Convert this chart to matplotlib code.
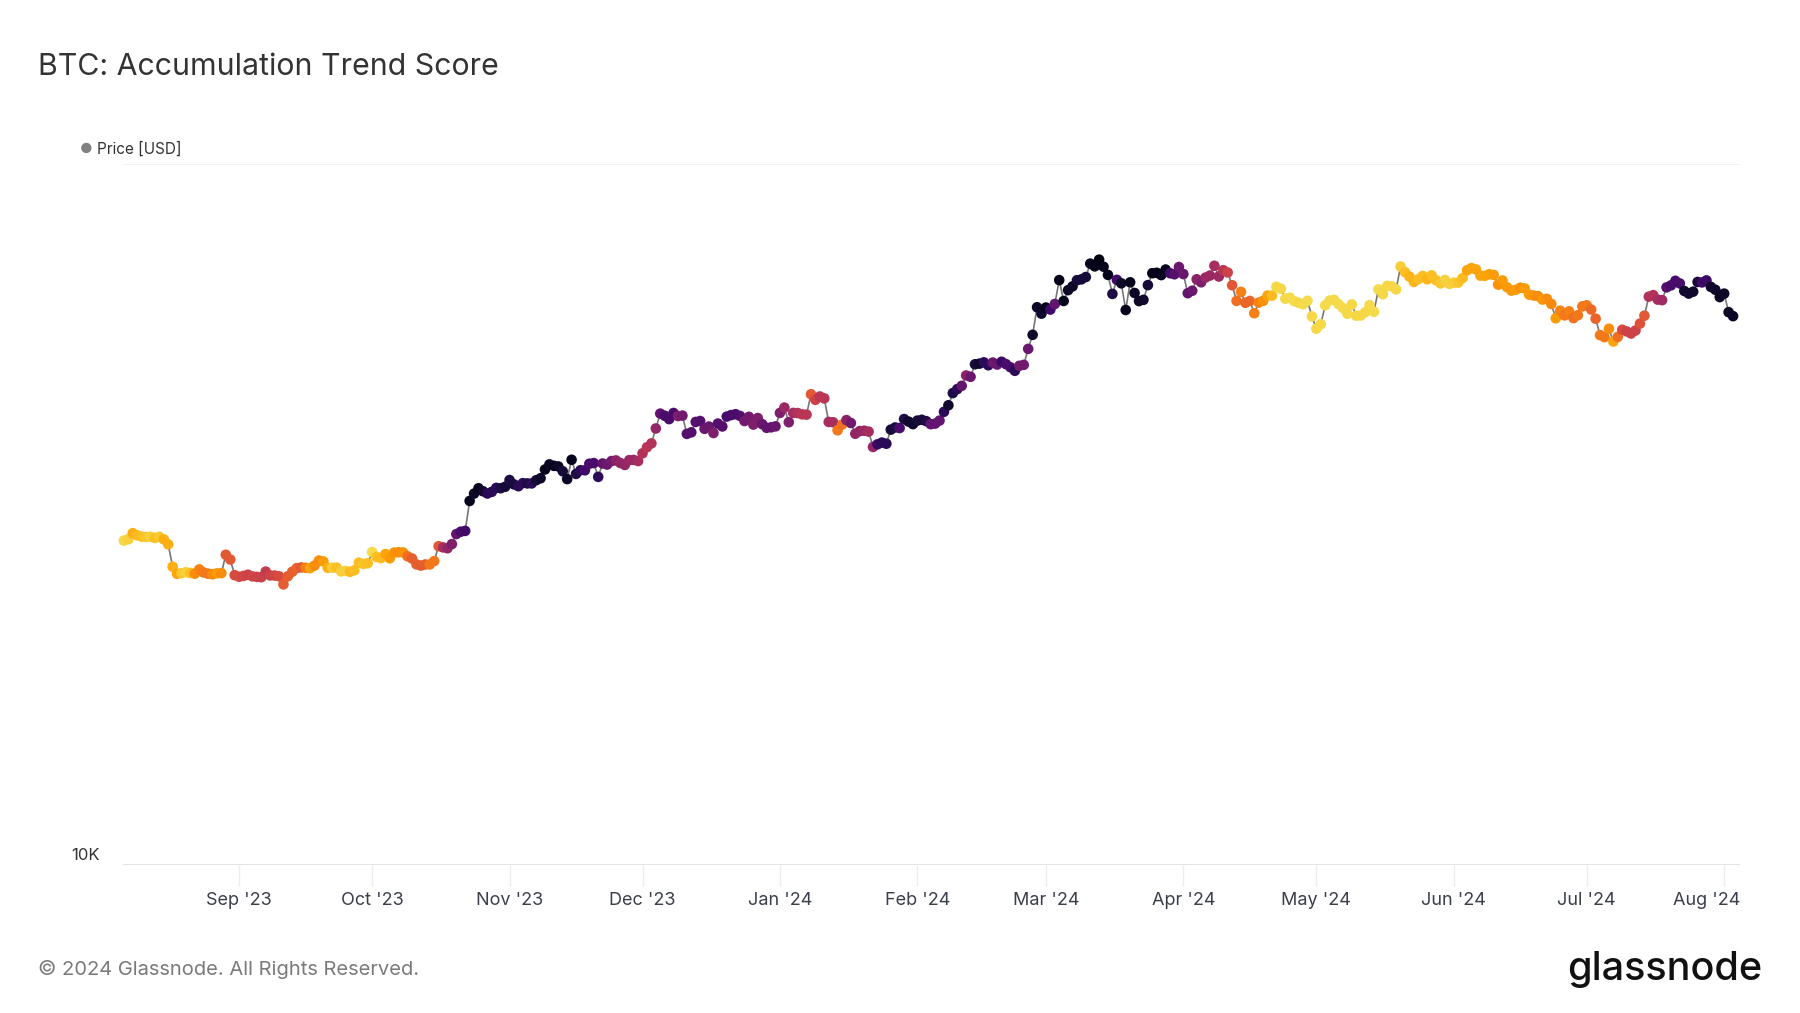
import pandas as pd
import matplotlib.pyplot as plt
import matplotlib.transforms as mtransforms

plt.rcParams["font.family"] = ["Inter", "DejaVu Sans"]

# daily BTC close in kUSD, one month per line (Aug 6 2023 .. Aug 3 2024)
price = [
    29.05, 29.18, 29.77, 29.56, 29.43, 29.40, 29.42, 29.31, 29.41, 29.17, 28.70, 26.66, 26.05, 26.10, 26.19, 26.12, 26.06, 26.43, 26.16, 26.06, 26.01, 26.09, 26.11, 27.73, 27.30, 25.93,
    25.80, 25.87, 25.97, 25.83, 25.79, 25.76, 26.24, 25.91, 25.90, 25.84, 25.16, 25.84, 26.23, 26.54, 26.60, 26.57, 26.53, 26.76, 27.21, 27.13, 26.57, 26.58, 26.58, 26.26, 26.30, 26.22, 26.35, 27.02, 26.91, 26.97,
    27.98, 27.53, 27.43, 27.79, 27.41, 27.93, 27.96, 27.94, 27.59, 27.39, 26.87, 26.76, 26.86, 26.86, 27.16, 28.52, 28.41, 28.33, 28.72, 29.68, 29.91, 29.99, 33.09, 33.90, 34.50, 34.16, 33.91, 34.09, 34.54, 34.50, 34.66,
    35.44, 34.94, 34.73, 35.08, 35.05, 35.05, 35.42, 35.65, 36.69, 37.31, 37.13, 37.06, 36.48, 35.55, 37.88, 36.16, 36.60, 36.59, 37.39, 37.47, 35.81, 37.42, 37.29, 37.72, 37.80, 37.48, 37.24, 37.83, 37.86, 37.72,
    38.69, 39.47, 39.97, 41.98, 44.08, 43.77, 43.29, 44.17, 43.73, 43.79, 41.24, 41.45, 42.89, 43.02, 41.93, 42.24, 41.36, 42.66, 42.26, 43.65, 43.87, 43.99, 43.74, 43.02, 43.61, 42.52, 43.44, 42.58, 42.07, 42.14, 42.27,
    44.18, 44.96, 42.85, 44.18, 44.16, 43.97, 43.93, 46.97, 46.12, 46.63, 46.34, 42.89, 42.84, 41.73, 42.51, 43.15, 42.74, 41.26, 41.62, 41.67, 41.55, 39.51, 39.85, 40.08, 39.93, 41.82, 42.12, 42.04, 43.30, 42.94, 42.58,
    43.08, 43.19, 43.00, 42.58, 42.66, 43.08, 44.34, 45.30, 47.15, 47.77, 48.29, 49.96, 49.74, 51.83, 51.94, 52.16, 51.66, 52.12, 51.78, 52.26, 51.85, 51.32, 50.73, 51.57, 51.73, 54.52, 57.09, 62.50, 61.20,
    62.44, 62.03, 63.17, 68.33, 63.80, 66.11, 66.93, 68.30, 68.50, 69.02, 72.12, 71.48, 73.08, 71.40, 69.50, 65.30, 68.39, 67.61, 61.94, 67.84, 65.50, 63.78, 64.04, 67.21, 69.89, 69.99, 69.46, 70.74, 69.89, 69.65, 71.33,
    69.70, 65.45, 65.98, 68.51, 67.84, 68.90, 69.36, 71.62, 69.14, 70.59, 70.06, 67.19, 63.82, 65.74, 63.43, 63.81, 61.28, 63.47, 63.82, 64.94, 64.94, 66.84, 66.41, 64.28, 64.50, 63.76, 63.42, 63.11, 63.84, 60.64,
    58.25, 59.12, 62.89, 63.89, 64.03, 63.16, 62.33, 61.19, 63.07, 60.79, 60.83, 61.48, 62.94, 61.58, 66.27, 65.23, 67.05, 66.94, 66.28, 71.45, 70.14, 69.12, 67.93, 68.53, 69.27, 68.52, 69.39, 68.30, 67.59, 68.36, 67.49,
    67.75, 67.77, 68.80, 70.57, 71.08, 70.76, 69.34, 69.31, 69.65, 69.51, 67.32, 68.24, 66.76, 66.01, 66.19, 66.64, 66.49, 65.14, 64.96, 64.83, 64.10, 64.25, 63.18, 60.28, 61.80, 60.86, 61.67, 60.32, 60.89, 62.68,
    62.90, 62.03, 60.20, 57.04, 56.66, 58.24, 55.85, 56.71, 58.05, 57.73, 57.34, 57.90, 59.23, 60.79, 64.72, 65.04, 64.09, 63.97, 66.71, 67.16, 68.17, 67.58, 65.93, 65.37, 65.78, 67.91, 67.81, 68.26, 66.82, 66.20, 64.62,
    65.36, 61.50, 60.70,
]

# accumulation trend score, 0 = distribution (yellow), 1 = accumulation (dark)
score = [
    0.10, 0.11, 0.18, 0.16, 0.15, 0.13, 0.11, 0.15, 0.13, 0.18, 0.18, 0.18, 0.20, 0.13, 0.11, 0.15, 0.25, 0.28, 0.30, 0.30, 0.25, 0.22, 0.25, 0.38, 0.38, 0.42,
    0.42, 0.44, 0.45, 0.44, 0.45, 0.46, 0.48, 0.45, 0.44, 0.42, 0.37, 0.36, 0.36, 0.35, 0.38, 0.28, 0.20, 0.25, 0.25, 0.22, 0.18, 0.12, 0.15, 0.12, 0.11, 0.16, 0.15, 0.15, 0.14, 0.15,
    0.09, 0.15, 0.16, 0.20, 0.22, 0.24, 0.25, 0.24, 0.32, 0.36, 0.36, 0.37, 0.36, 0.30, 0.30, 0.38, 0.55, 0.60, 0.65, 0.72, 0.78, 0.80, 0.95, 0.93, 0.95, 0.92, 0.85, 0.85, 0.85, 0.88, 0.90,
    0.88, 0.90, 0.85, 0.85, 0.88, 0.85, 0.90, 0.93, 0.95, 0.93, 0.95, 0.93, 0.90, 0.93, 0.95, 0.88, 0.85, 0.80, 0.78, 0.78, 0.85, 0.72, 0.70, 0.68, 0.62, 0.60, 0.60, 0.58, 0.58, 0.55,
    0.52, 0.50, 0.52, 0.60, 0.72, 0.78, 0.78, 0.78, 0.65, 0.68, 0.75, 0.75, 0.75, 0.75, 0.70, 0.70, 0.65, 0.75, 0.75, 0.78, 0.78, 0.78, 0.76, 0.68, 0.68, 0.65, 0.65, 0.70, 0.72, 0.72, 0.70,
    0.65, 0.58, 0.65, 0.55, 0.52, 0.50, 0.50, 0.38, 0.45, 0.50, 0.50, 0.55, 0.55, 0.30, 0.32, 0.62, 0.68, 0.60, 0.60, 0.58, 0.55, 0.60, 0.82, 0.85, 0.85, 0.90, 0.88, 0.78, 0.88, 0.92, 0.92,
    0.90, 0.90, 0.88, 0.72, 0.72, 0.72, 0.85, 0.92, 0.88, 0.85, 0.72, 0.62, 0.70, 0.90, 0.92, 0.85, 0.85, 0.70, 0.70, 0.82, 0.78, 0.78, 0.85, 0.68, 0.68, 0.70, 0.92, 0.93, 0.92,
    0.95, 0.80, 0.72, 0.95, 0.95, 0.93, 0.93, 0.90, 0.90, 0.90, 0.95, 0.95, 0.97, 0.95, 0.95, 0.88, 0.80, 0.93, 0.95, 0.95, 0.93, 0.93, 0.92, 0.90, 0.95, 0.95, 0.95, 0.95, 0.80, 0.75, 0.70,
    0.70, 0.72, 0.70, 0.62, 0.65, 0.58, 0.58, 0.55, 0.58, 0.50, 0.45, 0.38, 0.32, 0.28, 0.34, 0.34, 0.28, 0.27, 0.24, 0.20, 0.16, 0.10, 0.10, 0.09, 0.09, 0.09, 0.10, 0.09, 0.09, 0.10,
    0.10, 0.10, 0.09, 0.09, 0.10, 0.09, 0.09, 0.10, 0.10, 0.10, 0.10, 0.10, 0.09, 0.09, 0.09, 0.10, 0.10, 0.10, 0.10, 0.12, 0.15, 0.17, 0.17, 0.15, 0.15, 0.17, 0.15, 0.15, 0.13, 0.11, 0.11,
    0.12, 0.14, 0.16, 0.20, 0.20, 0.20, 0.20, 0.20, 0.21, 0.22, 0.24, 0.22, 0.22, 0.23, 0.22, 0.24, 0.22, 0.22, 0.24, 0.25, 0.23, 0.25, 0.26, 0.22, 0.27, 0.30, 0.28, 0.32, 0.30, 0.30,
    0.30, 0.33, 0.35, 0.30, 0.30, 0.25, 0.20, 0.32, 0.42, 0.45, 0.45, 0.45, 0.40, 0.38, 0.52, 0.52, 0.55, 0.57, 0.75, 0.78, 0.78, 0.78, 0.92, 0.92, 0.92, 0.90, 0.80, 0.82, 0.92, 0.92, 0.93,
    0.93, 0.93, 0.93,
]

dates = pd.date_range("2023-08-06", periods=len(price), freq="D")
usd = [p * 1000 for p in price]

fig = plt.figure(figsize=(18, 10.13), dpi=100)
ax = fig.add_axes([0.0683, 0.1457, 0.8984, 0.6923])

ax.plot(dates, usd, color="#777777", lw=1.2, zorder=1)
ax.scatter(dates, usd, c=score, cmap="inferno_r", vmin=0, vmax=1, s=58, linewidths=0,
           zorder=2, clip_on=False)

ax.set_yscale("log")
ax.set_ylim(10000, 100000)
ax.set_xlim(pd.Timestamp("2023-08-05 19:00"), pd.Timestamp("2024-08-04 14:00"))

for s in ax.spines.values():
    s.set_visible(False)
ax.axhline(10000, color="#e3e3e6", lw=1.5, zorder=0)
ax.axhline(100000, color="#f0f0f2", lw=1.2, zorder=0)

ax.set_yticks([])
ax.yaxis.set_minor_locator(plt.NullLocator())
tr = mtransforms.blended_transform_factory(ax.transAxes, ax.transData)
tr = mtransforms.offset_copy(tr, fig=fig, y=10, units="dots")
ax.text(-0.0142, 10000, "10K", transform=tr, ha="right", va="center", fontsize=12, color="#333333")

# month ticks; the last label is pushed in to end at the axis edge
ticks = pd.date_range("2023-09-01", "2024-08-01", freq="MS")
tick_labels = [d.strftime("%b '%y") for d in ticks]
ax.set_xticks(ticks)
ax.set_xticklabels(tick_labels[:-1] + [""])
ax.tick_params(axis="x", length=15, width=1, color="#ececee", labelsize=13, labelcolor="#3b3f4a", pad=4)
ax.text(1.0, -0.050, tick_labels[-1], transform=ax.transAxes, ha="right", va="center",
        fontsize=13, color="#3b3f4a")

fig.text(0.021, 0.934, "BTC: Accumulation Trend Score", fontsize=21.8, color="#333333", va="center")
fig.text(0.0477, 0.853, "\u25cf", fontsize=10, color="#808080", va="center", ha="center")
fig.text(0.054, 0.853, "Price [USD]", fontsize=11, color="#333333", va="center")
fig.text(0.021, 0.043, "\u00a9 2024 Glassnode. All Rights Reserved.", fontsize=14.5, color="#7a7a7a", va="center")
fig.text(0.979, 0.043, "glassnode", fontsize=28.5, color="#111111", ha="right", va="center", fontweight="medium")

fig.savefig("out.png", dpi=100)
